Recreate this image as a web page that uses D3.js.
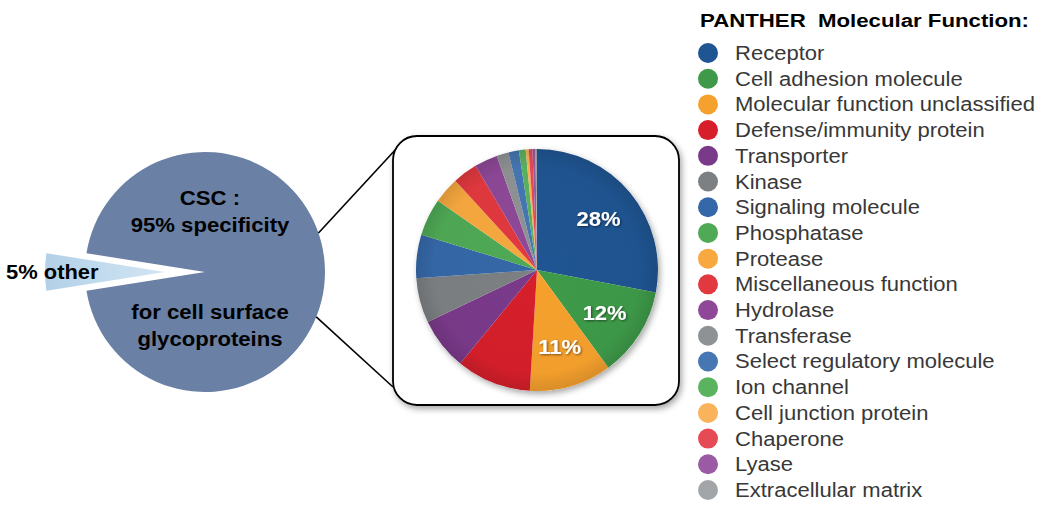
<!DOCTYPE html>
<html>
<head>
<meta charset="utf-8">
<script src="https://cdn.jsdelivr.net/npm/d3@7"></script>
<style>
  body { margin: 0; background: #fff; }
  svg { font-family: "Liberation Sans", Arial, Helvetica, sans-serif; }
</style>
</head>
<body>
<div id="chart"></div>
<script>
// overall CSC specificity
var overviewLabels = ["CSC", "other"];
var overviewValues = [95, 5];

// PANTHER molecular function breakdown (percent)
var categories = ["Receptor", "Cell adhesion molecule", "Molecular function unclassified",
    "Defense/immunity protein", "Transporter", "Kinase", "Signaling molecule", "Phosphatase",
    "Protease", "Miscellaneous function", "Hydrolase", "Transferase", "Select regulatory molecule",
    "Ion channel", "Cell junction protein", "Chaperone", "Lyase", "Extracellular matrix"];
var shares = [28, 12, 11, 10, 7, 6, 5.8, 5, 3.5, 3.3, 3.1, 1.6, 1.4, 0.9, 0.4, 0.5, 0.4, 0.2];
var shareLabels = ["28%", "12%", "11%"];
var colors = ["#1f5592", "#3e9a49", "#f6a12d", "#d61f2b", "#7a3a8a", "#7c8083", "#3568a8",
    "#4fa955", "#f7a83f", "#e1393f", "#8e4897", "#8f9294", "#4677b2", "#5ab35f", "#f9b35a",
    "#e54a55", "#9b5ba4", "#a3a6a8"];

var width = 1050, height = 510;

var svg = d3.select("#chart")
    .append("svg")
    .attr("width", width)
    .attr("height", height);

var defs = svg.append("defs");

var shadow = defs.append("filter").attr("id", "shadow")
    .attr("x", "-10%").attr("y", "-10%").attr("width", "130%").attr("height", "130%");
shadow.append("feDropShadow")
    .attr("dx", 2).attr("dy", 3).attr("stdDeviation", 3)
    .attr("flood-color", "#000").attr("flood-opacity", 0.35);

var textShadow = defs.append("filter").attr("id", "tshadow");
textShadow.append("feDropShadow")
    .attr("dx", 1).attr("dy", 1).attr("stdDeviation", 1)
    .attr("flood-color", "#000").attr("flood-opacity", 0.5);

var shade = defs.append("radialGradient").attr("id", "shade");
shade.append("stop").attr("offset", "0%").attr("stop-color", "#000").attr("stop-opacity", 0);
shade.append("stop").attr("offset", "85%").attr("stop-color", "#000").attr("stop-opacity", 0.02);
shade.append("stop").attr("offset", "100%").attr("stop-color", "#000").attr("stop-opacity", 0.12);

var wedgeGrad = defs.append("linearGradient").attr("id", "wedge")
    .attr("x1", "0%").attr("x2", "100%");
wedgeGrad.append("stop").attr("offset", "0%").attr("stop-color", "#b2d0e8");
wedgeGrad.append("stop").attr("offset", "100%").attr("stop-color", "#d3e6f4");

// text in the reference is a bit wider than Liberation Sans, so stretch it a little
function wideText(sel, x, y, sx) {
    return sel.attr("transform", `translate(${x}, ${y}) scale(${sx}, 1)`);
}

// ---- big overview pie ----
var big = { cx: 205, cy: 272, r: 120, explode: 40 };
var bigPie = d3.pie()
    .sort(null)
    .startAngle(-Math.PI / 2 + Math.PI * 0.05)
    .endAngle(Math.PI * 1.5 + Math.PI * 0.05);
var bigArc = d3.arc().innerRadius(0).outerRadius(big.r);

var bigGroup = svg.append("g")
    .attr("transform", `translate(${big.cx}, ${big.cy})`);

bigGroup.selectAll("path")
    .data(bigPie(overviewValues))
    .enter()
    .append("path")
    .attr("d", bigArc)
    .attr("fill", (d, i) => i == 0 ? "#6a80a5" : "url(#wedge)")
    .attr("transform", function(d, i) {
        if (i == 0) return null;
        var mid = (d.startAngle + d.endAngle) / 2;
        return `translate(${Math.sin(mid) * big.explode}, ${-Math.cos(mid) * big.explode})`;
    });

var bigText = [
    { t: "CSC :", y: 205 },
    { t: "95% specificity", y: 232 },
    { t: "for cell surface", y: 319 },
    { t: "glycoproteins", y: 346 }
];
svg.append("g").selectAll("text")
    .data(bigText)
    .enter()
    .append("text")
    .attr("transform", d => `translate(210, ${d.y}) scale(1.08, 1)`)
    .attr("text-anchor", "middle")
    .attr("font-size", 20.5)
    .attr("font-weight", "bold")
    .attr("fill", "#000")
    .text(d => d.t);

wideText(svg.append("text"), 6, 279, 1.07)
    .attr("font-size", 20.5)
    .attr("font-weight", "bold")
    .attr("fill", "#000")
    .text(overviewValues[1] + "% " + overviewLabels[1]);

// ---- zoom box ----
var box = { x: 393, y: 136, w: 286, h: 269, rx: 24 };

// connector lines from big pie to box
var a1 = -19 * Math.PI / 180, a2 = 22 * Math.PI / 180;
svg.append("line")
    .attr("x1", big.cx + big.r * Math.cos(a1)).attr("y1", big.cy + big.r * Math.sin(a1))
    .attr("x2", box.x + 4).attr("y2", box.y + 12)
    .attr("stroke", "#000").attr("stroke-width", 1.6);
svg.append("line")
    .attr("x1", big.cx + big.r * Math.cos(a2)).attr("y1", big.cy + big.r * Math.sin(a2))
    .attr("x2", box.x).attr("y2", box.y + box.h - 18)
    .attr("stroke", "#000").attr("stroke-width", 1.6);

svg.append("rect")
    .attr("x", box.x).attr("y", box.y)
    .attr("width", box.w).attr("height", box.h)
    .attr("rx", box.rx)
    .attr("fill", "#fff")
    .attr("stroke", "#000")
    .attr("stroke-width", 1.8)
    .attr("filter", "url(#shadow)");

// ---- small breakdown pie ----
var small = { cx: 537, cy: 270, r: 121 };
var pie = d3.pie().sort(null);
var arc = d3.arc().innerRadius(0).outerRadius(small.r);
var labelArc = d3.arc().innerRadius(80).outerRadius(80);

var pieGroup = svg.append("g")
    .attr("transform", `translate(${small.cx}, ${small.cy})`);

var slices = pie(shares);

pieGroup.append("circle")
    .attr("r", small.r)
    .attr("fill", "#fff")
    .attr("filter", "url(#shadow)");

pieGroup.selectAll("path.slice")
    .data(slices)
    .enter()
    .append("path")
    .attr("class", "slice")
    .attr("d", arc)
    .attr("fill", (d, i) => colors[i]);

pieGroup.append("circle")
    .attr("r", small.r)
    .attr("fill", "url(#shade)");

pieGroup.selectAll("text")
    .data(slices.slice(0, shareLabels.length))
    .enter()
    .append("text")
    .attr("transform", d => `translate(${labelArc.centroid(d)}) scale(1.1, 1)`)
    .attr("text-anchor", "middle")
    .attr("dy", "0.36em")
    .attr("font-size", 20)
    .attr("font-weight", "bold")
    .attr("fill", "#fff")
    .attr("filter", "url(#tshadow)")
    .text((d, i) => shareLabels[i]);

// ---- legend ----
var legend = svg.append("g").attr("transform", "translate(700, 0)");

wideText(legend.append("text"), 0, 27, 1.17)
    .attr("font-size", 19)
    .attr("font-weight", "bold")
    .attr("fill", "#000")
    .attr("xml:space", "preserve")
    .text("PANTHER  Molecular Function:");

var yLegend = d3.scalePoint()
    .domain(categories)
    .range([53, 490]);

var items = legend.selectAll("g.item")
    .data(categories)
    .enter()
    .append("g")
    .attr("class", "item")
    .attr("transform", d => `translate(0, ${yLegend(d)})`);

items.append("circle")
    .attr("cx", 8)
    .attr("r", 10)
    .attr("fill", (d, i) => colors[i]);

items.append("text")
    .attr("transform", "translate(35, 0) scale(1.13, 1)")
    .attr("dy", "0.36em")
    .attr("font-size", 19.5)
    .attr("fill", "#383838")
    .text(d => d);
</script>
</body>
</html>
